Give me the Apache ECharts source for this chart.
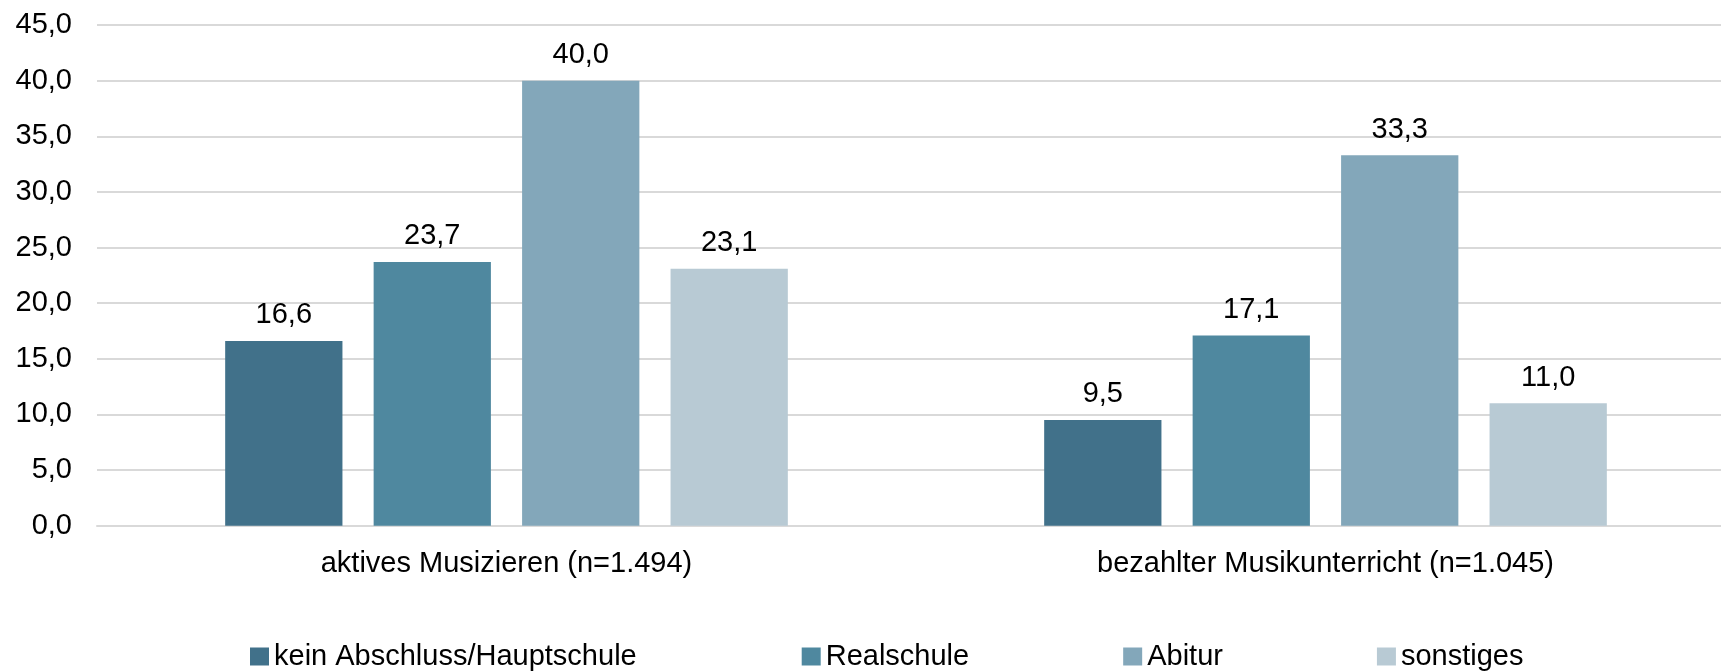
<!DOCTYPE html>
<html>
<head>
<meta charset="utf-8">
<script src="https://cdn.jsdelivr.net/npm/echarts@6/dist/echarts.min.js"></script>
<style>
html,body{margin:0;padding:0;background:#fff;}
#chart{width:1721px;height:671px;}
</style>
</head>
<body>
<div id="chart"></div>
<script>
var categories = ["aktives Musizieren (n=1.494)", "bezahlter Musikunterricht (n=1.045)"];
var seriesNames = ["kein Abschluss/Hauptschule", "Realschule", "Abitur", "sonstiges"];
var keinAbschluss = [16.6, 9.5];
var realschule = [23.7, 17.1];
var abitur = [40.0, 33.3];
var sonstiges = [23.1, 11.0];
var colors = ["#41718a", "#4f889f", "#83a7ba", "#b8cad4"];

var seriesData = [keinAbschluss, realschule, abitur, sonstiges];
var FONT = "Liberation Sans";
var FS = 29;
function fmt(v){ return Number(v).toFixed(1).replace('.', ','); }

var chart = echarts.init(document.getElementById('chart'), null, {renderer:'canvas'});
var series = seriesData.map(function(d, i){
  return {
    name: seriesNames[i],
    type: 'bar',
    data: d,
    barGap: '26.6%',
    barCategoryGap: '31.3%',
    itemStyle: {color: colors[i]},
    label: {
      show: true, position: 'top', distance: 11,
      formatter: function(p){ return fmt(p.value); },
      fontFamily: FONT, fontSize: FS, color: '#000'
    }
  };
});
var legendText = {fontFamily: FONT, fontSize: FS, color: '#000'};
chart.setOption({
  animation: false,
  color: colors,
  grid: {left: 97, right: -14, top: 25, bottom: 145.3, containLabel: false, outerBoundsMode: 'none'},
  legend: [
    {data: [seriesNames[0]], left: 250, top: 642, padding: 0, itemWidth: 19, itemHeight: 18, itemGap: 154,
     icon: 'rect', textStyle: legendText},
    {data: seriesNames.slice(1), left: 801.7, top: 642, padding: 0, itemWidth: 19, itemHeight: 18, itemGap: 154,
     icon: 'rect', textStyle: legendText}
  ],
  xAxis: {
    type: 'category', data: categories,
    axisTick: {show: false},
    axisLine: {lineStyle: {color: '#d9d9d9', width: 2}},
    axisLabel: {fontFamily: FONT, fontSize: FS, color: '#000', margin: 24}
  },
  yAxis: {
    type: 'value', min: 0, max: 45, interval: 5,
    axisLine: {show: false}, axisTick: {show: false},
    splitLine: {lineStyle: {color: '#d9d9d9', width: 2}},
    axisLabel: {fontFamily: FONT, fontSize: FS, color: '#000', margin: 25,
      formatter: function(v){ return fmt(v); }}
  },
  series: series
});
</script>
</body>
</html>
